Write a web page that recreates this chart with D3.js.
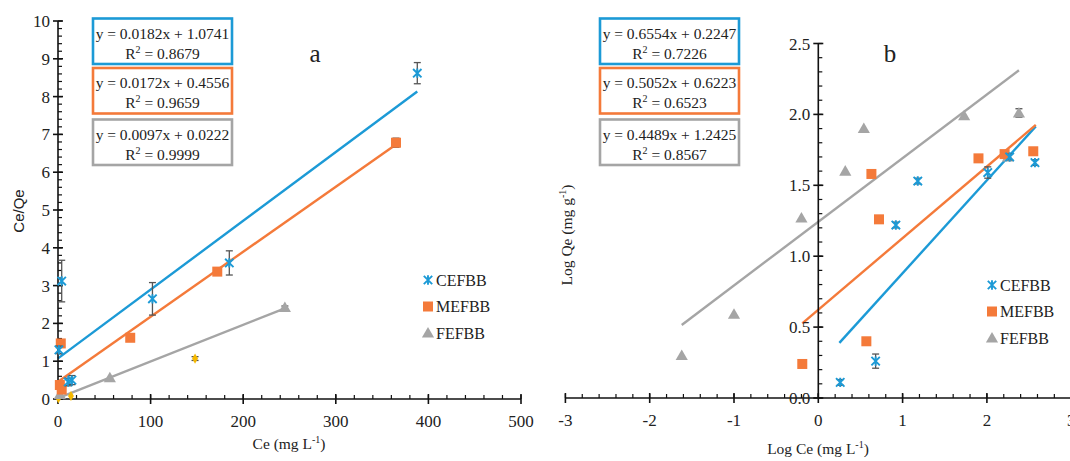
<!DOCTYPE html>
<html><head><meta charset="utf-8">
<script src="https://cdn.jsdelivr.net/npm/d3@7"></script>
<style>
body{margin:0;background:#fff;}
svg{display:block;}
text{font-family:"Liberation Serif","Times New Roman",serif;fill:#222;}
</style></head>
<body>
<svg id="c" width="1070" height="461"></svg>
<script>
// ---------- DATA ----------
const seriesNames = ["CEFBB", "MEFBB", "FEFBB"];
const colors = ["#1c9ad6", "#f47a3a", "#a5a5a5"];

// Panel a: Langmuir (Ce vs Ce/Qe)
const aCefX = [1, 4, 11, 15, 102, 185, 388];
const aCefY = [1.3, 3.12, 0.45, 0.5, 2.65, 3.6, 8.62];
const aCefErr = [0.1, 0.55, 0.1, 0.12, 0.43, 0.32, 0.28];
const aMefX = [2, 4, 3, 78, 172, 365];
const aMefY = [0.37, 0.25, 1.47, 1.62, 3.37, 6.78];
const aMefErr = [0, 0, 0, 0, 0, 0.12];
const aFefX = [2, 56, 245];
const aFefY = [0.12, 0.56, 2.42];
const aFefErr = [0, 0, 0.04];
const aExtraX = [0.5, 14, 148];
const aExtraY = [0.02, 0.08, 1.07];
const aExtraErr = [0, 0, 0.05];
const aSlope = [0.0182, 0.0172, 0.0097];
const aIntercept = [1.0741, 0.4556, 0.0222];
const aR2 = ["0.8679", "0.9659", "0.9999"];
const aFitFrom = [0, 0, 0];
const aFitTo = [388, 365, 245];
const aXTicks = [0, 100, 200, 300, 400, 500];
const aYTicks = [0, 1, 2, 3, 4, 5, 6, 7, 8, 9, 10];

// Panel b: Freundlich (Log Ce vs Log Qe)
const bCefX = [0.26, 0.68, 0.92, 1.18, 2.01, 2.27, 2.57];
const bCefY = [0.11, 0.26, 1.22, 1.53, 1.59, 1.70, 1.66];
const bCefErr = [0.02, 0.05, 0.02, 0.02, 0.04, 0.02, 0.02];
const bMefX = [-0.19, 0.57, 0.63, 0.72, 1.90, 2.21, 2.55];
const bMefY = [0.24, 0.40, 1.58, 1.26, 1.69, 1.72, 1.74];
const bMefErr = [0, 0, 0, 0, 0, 0, 0];
const bFefX = [-1.62, -1.0, -0.2, 0.32, 0.54, 1.73, 2.25, 2.38];
const bFefY = [0.30, 0.59, 1.27, 1.60, 1.90, 1.99, 1.70, 2.01];
const bFefErr = [0, 0, 0, 0, 0, 0, 0, 0.03];
const bSlope = [0.6554, 0.5052, 0.4489];
const bIntercept = [0.2247, 0.6223, 1.2425];
const bR2 = ["0.7226", "0.6523", "0.8567"];
const bFitFrom = [0.25, -0.19, -1.62];
const bFitTo = [2.58, 2.58, 2.38];
const bXTicks = [-3, -2, -1, 0, 1, 2, 3];
const bYTicks = [0, 0.5, 1.0, 1.5, 2.0, 2.5];

// ---------- DRAW ----------
const svg = d3.select("#c");
const fmtEq = (s, b) => `y = ${s.toFixed(4)}x + ${b.toFixed(4)}`;

function marker(g, type, x, y, color) {
  if (type === 0) {
    const s = 4.2;
    const p = d3.path();
    p.moveTo(x - s, y - s); p.lineTo(x + s, y + s);
    p.moveTo(x - s, y + s); p.lineTo(x + s, y - s);
    p.moveTo(x, y - s - 0.5); p.lineTo(x, y + s + 0.5);
    g.append("path").attr("d", p.toString()).attr("stroke", color).attr("stroke-width", 1.9).attr("fill", "none");
  } else if (type === 1) {
    g.append("rect").attr("x", x - 5).attr("y", y - 5).attr("width", 10).attr("height", 10).attr("fill", color);
  } else if (type === 2) {
    g.append("path").attr("d", d3.symbol(d3.symbolTriangle, 64)()).attr("transform", `translate(${x},${y + 1})`).attr("fill", color);
  } else {
    g.append("path").attr("d", d3.symbol(d3.symbolDiamond, 30)()).attr("transform", `translate(${x},${y})`).attr("fill", color);
  }
}

function drawPanel(cfg) {
  const g = svg.append("g");
  const x = d3.scaleLinear().domain(cfg.xDomain).range(cfg.xRange);
  const y = d3.scaleLinear().domain(cfg.yDomain).range(cfg.yRange);
  const axX = x(cfg.yAxisAt), axY = y(cfg.xAxisAt);

  // fit lines
  for (let i = 0; i < 3; i++) {
    const x0 = cfg.fitFrom[i], x1 = cfg.fitTo[i];
    g.append("line")
      .attr("x1", x(x0)).attr("y1", y(cfg.slope[i] * x0 + cfg.intercept[i]))
      .attr("x2", x(x1)).attr("y2", y(cfg.slope[i] * x1 + cfg.intercept[i]))
      .attr("stroke", colors[i]).attr("stroke-width", 2.4);
  }

  // axes lines
  const axisG = g.append("g").attr("stroke", "#111").attr("stroke-width", 1.6);
  axisG.append("line").attr("x1", x(cfg.xDomain[0])).attr("x2", x(cfg.xDomain[1])).attr("y1", axY).attr("y2", axY);
  axisG.append("line").attr("x1", axX).attr("x2", axX).attr("y1", y(cfg.yDomain[0])).attr("y2", y(cfg.yDomain[1]));
  const xMinor = d3.range(cfg.xDomain[0], cfg.xDomain[1] + 1e-9, cfg.xMinorStep);
  xMinor.forEach(v => axisG.append("line").attr("x1", x(v)).attr("x2", x(v)).attr("y1", axY).attr("y2", axY - 4).attr("stroke-width", 1.2));
  cfg.xTicks.forEach(v => axisG.append("line").attr("x1", x(v)).attr("x2", x(v)).attr("y1", axY - 5).attr("y2", axY + 5));
  const yMinor = d3.range(cfg.yDomain[0], cfg.yDomain[1] + 1e-9, cfg.yMinorStep);
  yMinor.forEach(v => axisG.append("line").attr("x1", axX).attr("x2", axX + 4).attr("y1", y(v)).attr("y2", y(v)).attr("stroke-width", 1.2));
  cfg.yTicks.forEach(v => axisG.append("line").attr("x1", axX - 5).attr("x2", axX + 5).attr("y1", y(v)).attr("y2", y(v)));

  // tick labels
  cfg.xTicks.forEach(v => g.append("text").attr("x", x(v)).attr("y", axY + 28).attr("text-anchor", "middle")
    .attr("font-size", 17).text(v));
  cfg.yTicks.forEach(v => g.append("text").attr("x", axX - 8).attr("y", y(v) + 6).attr("text-anchor", "end")
    .attr("font-size", 17).text(cfg.yFmt(v)));

  // error bars + points
  cfg.series.forEach((s, i) => {
    s.x.forEach((xv, j) => {
      const e = s.err[j];
      if (e > 0) {
        const px = x(xv), pt = y(s.y[j] + e), pb = y(s.y[j] - e);
        g.append("line").attr("x1", px).attr("x2", px).attr("y1", pt).attr("y2", pb).attr("stroke", "#555").attr("stroke-width", 1.3);
        g.append("line").attr("x1", px - 3.5).attr("x2", px + 3.5).attr("y1", pt).attr("y2", pt).attr("stroke", "#555").attr("stroke-width", 1.3);
        g.append("line").attr("x1", px - 3.5).attr("x2", px + 3.5).attr("y1", pb).attr("y2", pb).attr("stroke", "#555").attr("stroke-width", 1.3);
      }
      marker(g, s.type, x(xv), y(s.y[j]), s.color);
    });
  });

  // equation boxes
  const boxTops = [18.5, 68, 119.5];
  for (let i = 0; i < 3; i++) {
    const bx = cfg.boxX, by = boxTops[i];
    g.append("rect").attr("x", bx).attr("y", by).attr("width", 139).attr("height", 45.5)
      .attr("fill", "#fff").attr("stroke", colors[i]).attr("stroke-width", 2.6);
    g.append("text").attr("x", bx + 69.5).attr("y", by + 20).attr("text-anchor", "middle").attr("font-size", 15.5)
      .text(fmtEq(cfg.slope[i], cfg.intercept[i]));
    const t = g.append("text").attr("x", bx + 69.5).attr("y", by + 40).attr("text-anchor", "middle").attr("font-size", 15.5);
    t.append("tspan").text("R");
    t.append("tspan").attr("font-size", 10).attr("dy", -6).text("2");
    t.append("tspan").attr("dy", 6).text(" = " + cfg.r2[i]);
  }

  // panel letter
  g.append("text").attr("x", cfg.letterX).attr("y", 62).attr("text-anchor", "middle").attr("font-size", 25).text(cfg.letter);

  // legend
  seriesNames.forEach((n, i) => {
    const ly = cfg.legY + i * 26.5;
    marker(g, i, cfg.legX, ly, colors[i]);
    g.append("text").attr("x", cfg.legX + 8).attr("y", ly + 5.5).attr("font-size", 16).text(n);
  });
  return {x, y, g};
}

drawPanel({
  xDomain: [0, 500], xRange: [58, 521], yDomain: [0, 10], yRange: [399, 21],
  yAxisAt: 0, xAxisAt: 0, xMinorStep: 20, yMinorStep: 0.2,
  xTicks: aXTicks, yTicks: aYTicks, yFmt: v => v,
  slope: aSlope, intercept: aIntercept, r2: aR2, fitFrom: aFitFrom, fitTo: aFitTo,
  series: [
    {x: aExtraX, y: aExtraY, err: aExtraErr, type: 3, color: "#f5b800"},
    {x: aFefX, y: aFefY, err: aFefErr, type: 2, color: colors[2]},
    {x: aMefX, y: aMefY, err: aMefErr, type: 1, color: colors[1]},
    {x: aCefX, y: aCefY, err: aCefErr, type: 0, color: colors[0]}
  ],
  boxX: 93, letter: "a", letterX: 315, legX: 428, legY: 280
});

drawPanel({
  xDomain: [-3, 3], xRange: [565.4, 1071.2], yDomain: [0, 2.5], yRange: [398, 43.5],
  yAxisAt: 0, xAxisAt: 0, xMinorStep: 0.2, yMinorStep: 0.1,
  xTicks: bXTicks, yTicks: bYTicks, yFmt: v => v.toFixed(1),
  slope: bSlope, intercept: bIntercept, r2: bR2, fitFrom: bFitFrom, fitTo: bFitTo,
  series: [
    {x: bFefX, y: bFefY, err: bFefErr, type: 2, color: colors[2]},
    {x: bMefX, y: bMefY, err: bMefErr, type: 1, color: colors[1]},
    {x: bCefX, y: bCefY, err: bCefErr, type: 0, color: colors[0]}
  ],
  boxX: 600, letter: "b", letterX: 890, legX: 992, legY: 285
});

// axis titles
svg.append("text").attr("transform", "translate(24,211) rotate(-90)").attr("text-anchor", "middle")
  .style("font-family", "'Liberation Sans', Arial, sans-serif").attr("font-size", 15).text("Ce/Qe");
function supTitle(tx, ty, rot, base, sup, tail) {
  const t = svg.append("text").attr("transform", `translate(${tx},${ty}) rotate(${rot})`)
    .attr("text-anchor", "middle").attr("font-size", 15.5);
  t.append("tspan").text(base);
  t.append("tspan").attr("font-size", 10).attr("dy", -6).text(sup);
  t.append("tspan").attr("dy", 6).text(tail);
}
supTitle(289, 449, 0, "Ce (mg L", "-1", ")");
supTitle(818, 454, 0, "Log Ce (mg L", "-1", ")");
supTitle(572, 235, -90, "Log Qe (mg g", "-1", ")");
</script>
</body></html>
